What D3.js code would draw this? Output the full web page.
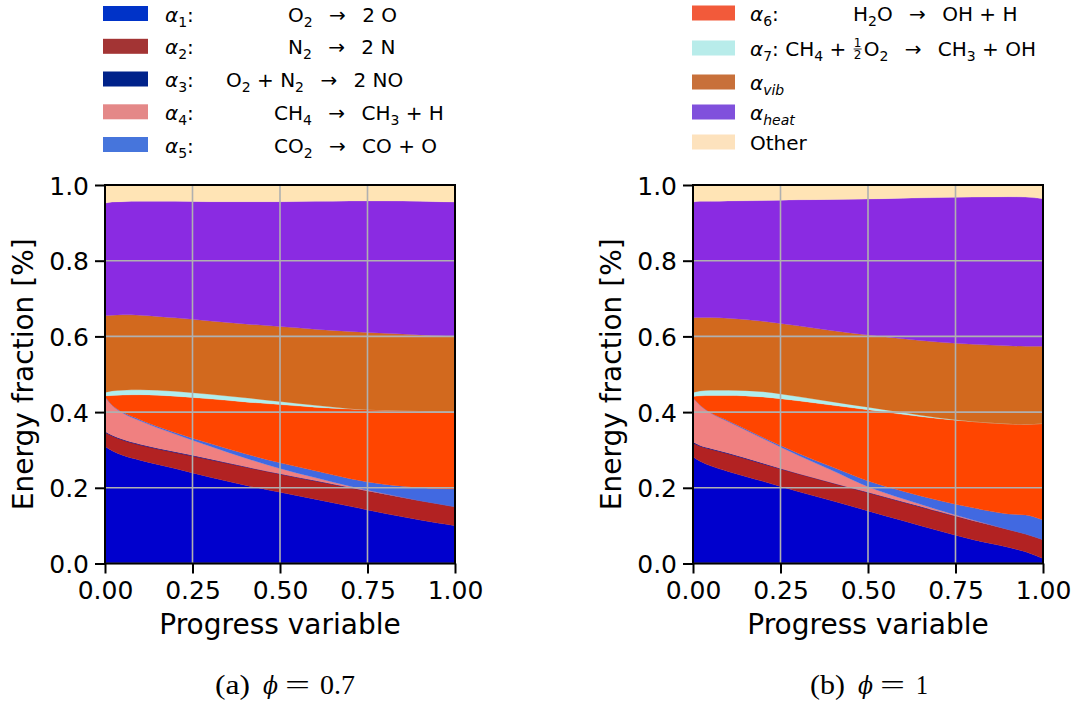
<!DOCTYPE html>
<html><head><meta charset="utf-8">
<script src="https://cdn.jsdelivr.net/npm/d3@7"></script>
<style>body{margin:0;background:#fff} svg{display:block} text{font-family:"DejaVu Sans",sans-serif}</style>
</head><body><svg id="c" width="1076" height="709"></svg>
<script>
// ---------------- DATA ----------------
const progress = [0, 0.02, 0.05, 0.1, 0.2, 0.3, 0.4, 0.5, 0.6, 0.7, 0.8, 0.9, 0.95, 1.0];
const seriesKeys = ["a1","a2","a3","a4","a5","a6","a7","vib","heat","other"];

// (a) phi = 0.7  -- layer thicknesses (energy fraction)
const a1_p07   = [0.310,0.298,0.286,0.273,0.251,0.228,0.207,0.188,0.170,0.151,0.132,0.115,0.107,0.100];
const a2_p07   = [0.036,0.039,0.040,0.040,0.042,0.046,0.048,0.048,0.048,0.049,0.051,0.051,0.051,0.050];
const a3_p07   = [0.003,0.002,0.002,0.002,0.002,0.002,0.001,0.001,0.001,0.001,0,0,0,0];
const a4_p07   = [0.091,0.079,0.070,0.062,0.047,0.034,0.023,0.014,0.008,0.003,0.001,0,0,0];
const a5_p07   = [0.001,0.001,0.002,0.003,0.004,0.007,0.011,0.015,0.018,0.020,0.025,0.035,0.040,0.047];
const a6_p07   = [0.002,0.025,0.045,0.066,0.096,0.118,0.137,0.154,0.168,0.184,0.196,0.202,0.204,0.205];
const a7_p07   = [0.009,0.012,0.013,0.013,0.013,0.012,0.011,0.008,0.005,0.001,0,0,0,0];
const vib_p07  = [0.203,0.200,0.199,0.197,0.194,0.194,0.195,0.198,0.201,0.204,0.203,0.201,0.200,0.199];
const heat_p07 = [0.297,0.299,0.299,0.301,0.308,0.315,0.323,0.330,0.338,0.345,0.350,0.353,0.354,0.354];
const other_p07= [0.048,0.045,0.044,0.043,0.043,0.044,0.044,0.044,0.043,0.042,0.042,0.043,0.044,0.045];

// (b) phi = 1
const a1_p1    = [0.282,0.270,0.258,0.243,0.217,0.190,0.165,0.139,0.113,0.087,0.063,0.043,0.031,0.013];
const a2_p1    = [0.036,0.040,0.044,0.047,0.046,0.047,0.047,0.048,0.049,0.050,0.050,0.047,0.047,0.050];
const a3_p1    = [0.003,0.002,0.002,0.002,0.002,0.001,0.001,0.001,0.001,0.001,0,0,0,0];
const a4_p1    = [0.116,0.106,0.094,0.083,0.065,0.048,0.032,0.015,0.008,0.004,0.002,0,0,0];
const a5_p1    = [0.001,0.001,0.001,0.002,0.003,0.005,0.009,0.015,0.020,0.025,0.032,0.041,0.050,0.052];
const a6_p1    = [0.003,0.024,0.045,0.067,0.107,0.139,0.164,0.188,0.203,0.216,0.228,0.238,0.240,0.255];
const a7_p1    = [0.011,0.013,0.014,0.014,0.014,0.011,0.009,0.007,0.005,0.002,0,0,0,0];
const vib_p1   = [0.197,0.194,0.192,0.190,0.186,0.187,0.188,0.191,0.195,0.200,0.204,0.206,0.206,0.204];
const heat_p1  = [0.306,0.307,0.307,0.310,0.319,0.333,0.347,0.359,0.371,0.382,0.389,0.394,0.394,0.390];
const other_p1 = [0.045,0.043,0.043,0.042,0.041,0.039,0.038,0.037,0.035,0.033,0.032,0.031,0.032,0.036];

const xTicks = [0, 0.25, 0.5, 0.75, 1.0];
const yTicks = [0, 0.2, 0.4, 0.6, 0.8, 1.0];

const legendNames = ["α_1:", "α_2:", "α_3:", "α_4:", "α_5:", "α_6:", "α_7:", "α_{vib}", "α_{heat}", "Other"];
const legendEquations = ["O_2 → 2 O", "N_2 → 2 N", "O_2 + N_2 → 2 NO", "CH_4 → CH_3 + H", "CO_2 → CO + O", "H_2O → OH + H", "CH_4 + ½O_2 → CH_3 + OH", "", "", ""];
const captions = [["(a)", "0.7"], ["(b)", "1"]];

// ---------------- STYLE ----------------
const areaColors = {a1:"#0000cd", a2:"#b22222", a3:"#000080", a4:"#f08080", a5:"#4169e1",
  a6:"#ff4500", a7:"#afeeee", vib:"#d2691e", heat:"#8a2be2", other:"#ffe4b5"};
const legendColors = {a1:"#0033c8", a2:"#a33434", a3:"#00228a", a4:"#e48888", a5:"#4675dc",
  a6:"#f25a3a", a7:"#b8ecea", vib:"#c8703a", heat:"#8050dc", other:"#fde2bd"};

const svg = d3.select("#c");
svg.append("rect").attr("width",1076).attr("height",709).attr("fill","#fff");

function makeRows(arrs){
  return progress.map((p,i)=>{ const r={p}; seriesKeys.forEach((k,j)=>r[k]=arrs[j][i]); return r; });
}
const panels = [
  {left:105, rows: makeRows([a1_p07,a2_p07,a3_p07,a4_p07,a5_p07,a6_p07,a7_p07,vib_p07,heat_p07,other_p07]), cap:captions[0],
   capPos:[[215,35],[263,15],[285,25],[320,35]], ylabX:33},
  {left:693, rows: makeRows([a1_p1,a2_p1,a3_p1,a4_p1,a5_p1,a6_p1,a7_p1,vib_p1,heat_p1,other_p1]), cap:captions[1],
   capPos:[[810,35],[858,15],[880,25],[916,12]], ylabX:621}
];
const plotTop = 185, plotBottom = 563.5, W = 350;

panels.forEach(P=>{
  const x = d3.scaleLinear().domain([0,1]).range([P.left, P.left+W]);
  const y = d3.scaleLinear().domain([0,1]).range([plotBottom, plotTop]);
  const g = svg.append("g");
  const stack = d3.stack().keys(seriesKeys)(P.rows);
  const area = d3.area().x(d=>x(d.data.p)).y0(d=>y(d[0])).y1(d=>y(Math.min(1,d[1]))).curve(d3.curveMonotoneX);
  const areaTop = d3.area().x(e=>x(e.data.p)).y0(e=>y(e[0])).y1(()=>y(1)).curve(d3.curveMonotoneX);
  g.selectAll("path.layer").data(stack).join("path")
    .attr("class","layer")
    .attr("fill", d=>areaColors[d.key])
    .attr("stroke", d=>areaColors[d.key]).attr("stroke-width", 0.3)
    .attr("d", d=> d.key==="other" ? areaTop(d) : area(d));
  // grid
  g.selectAll("line.gx").data(xTicks).join("line").attr("class","gx").attr("x1",d=>x(d)).attr("x2",d=>x(d))
    .attr("y1",plotTop).attr("y2",plotBottom).attr("stroke","#b0b0b0").attr("stroke-width",1.6);
  g.selectAll("line.gy").data(yTicks).join("line").attr("class","gy").attr("y1",d=>y(d)).attr("y2",d=>y(d))
    .attr("x1",P.left).attr("x2",P.left+W).attr("stroke","#b0b0b0").attr("stroke-width",1.6);
  // axes
  const xa = g.append("g").attr("transform",`translate(0,${plotBottom})`)
    .call(d3.axisBottom(x).tickValues(xTicks).tickFormat(d3.format(".2f")).tickSize(10).tickPadding(6));
  const ya = g.append("g").attr("transform",`translate(${P.left},0)`)
    .call(d3.axisLeft(y).tickValues(yTicks).tickFormat(d3.format(".1f")).tickSize(10).tickPadding(6));
  [xa,ya].forEach(a=>{
    a.select(".domain").remove();
    a.selectAll(".tick line").attr("stroke","#000").attr("stroke-width",2);
    a.selectAll(".tick text").attr("fill","#000").style("font-size","25px").style("font-family","DejaVu Sans");
  });
  xa.selectAll(".tick text").attr("dy","0.78em");
  ya.selectAll(".tick text").attr("dy","0.36em");
  // spines
  g.append("rect").attr("x",P.left).attr("y",plotTop).attr("width",W).attr("height",plotBottom-plotTop)
    .attr("fill","none").attr("stroke","#000").attr("stroke-width",2);
  // labels
  g.append("text").attr("x",P.left+W/2).attr("y",634).attr("text-anchor","middle")
    .style("font-size","28px").text("Progress variable");
  g.append("text").attr("transform",`translate(${P.ylabX},${(plotTop+plotBottom)/2}) rotate(-90)`)
    .attr("text-anchor","middle").style("font-size","28px").text("Energy fraction [%]");
  // caption (serif, LaTeX-like)
  const pieces = [P.cap[0], "ϕ", "=", P.cap[1]];
  const cy = 694;
  pieces.forEach((s,k)=>{
    const t = g.append("text").attr("x",P.capPos[k][0]).attr("y",cy)
      .style("font-family", k===1 ? "DejaVu Serif" : "Liberation Serif")
      .style("font-size", k===1 ? "24px" : "28px")
      .style("font-style", k===1 ? "italic" : "normal")
      .attr("textLength", P.capPos[k][1]).attr("lengthAdjust","spacingAndGlyphs")
      .text(s);
  });
});

// ---------------- LEGEND ----------------
function rich(textSel, str){
  let i=0; const fs=20; let pending=0;
  const add = (s, opts)=>{
    const ts = textSel.append("tspan").text(s);
    let dy = pending + (opts.sub?5:0);
    if(dy) ts.attr("dy", dy);
    pending = opts.sub ? -5 : 0;
    if(opts.sub) ts.style("font-size",(fs*0.7)+"px");
    if(opts.italic) ts.style("font-style","italic");
  };
  while(i<str.length){
    if(str[i]==="_"){
      let s;
      if(str[i+1]==="{"){ const j=str.indexOf("}",i); s=str.slice(i+2,j); i=j+1; }
      else { s=str[i+1]; i+=2; }
      add(s, {sub:true, italic:/[a-z]/.test(s)});
    } else {
      let j=i; while(j<str.length && str[j]!=="_") j++;
      str.slice(i,j).split(/(α)/).forEach(part=>{ if(part) add(part, {italic: part==="α"}); });
      i=j;
    }
  }
}
const ARROW = "\u00a0\u2002→\u2002\u00a0".replace(/\u00a0/g," ");
const legLayout = [
  {px:103, pw:45, base:21.5, nx:165, ex:288},
  {px:103, pw:45, base:54.3, nx:165, ex:288},
  {px:103, pw:45, base:87.0, nx:165, ex:226},
  {px:103, pw:45, base:119.8, nx:165, ex:274},
  {px:103, pw:45, base:152.5, nx:165, ex:274},
  {px:692, pw:43, base:21.0, nx:750, ex:853},
  {px:692, pw:43, base:56.0, nx:750, ex:null},
  {px:692, pw:43, base:90.0, nx:750, ex:null},
  {px:692, pw:43, base:120.0, nx:750, ex:null},
  {px:692, pw:43, base:150.0, nx:750, ex:null}
];
seriesKeys.forEach((k,i)=>{
  const L = legLayout[i];
  svg.append("rect").attr("x",L.px).attr("y",L.base-15.5).attr("width",L.pw).attr("height",15)
    .attr("fill",legendColors[k]);
  if(i===6){
    const parts = legendEquations[6].split("½");
    const t1 = svg.append("text").attr("x",L.nx).attr("y",L.base).style("font-size","20px").attr("xml:space","preserve");
    rich(t1, legendNames[6] + " " + parts[0]);
    const w1 = t1.node().getComputedTextLength();
    const fx = L.nx + w1 + 1;
    svg.append("text").attr("x",fx+4).attr("y",L.base-9).attr("text-anchor","middle").style("font-size","12px").text("1");
    svg.append("line").attr("x1",fx).attr("x2",fx+8).attr("y1",L.base-7).attr("y2",L.base-7).attr("stroke","#000").attr("stroke-width",0.8);
    svg.append("text").attr("x",fx+4).attr("y",L.base+3).attr("text-anchor","middle").style("font-size","12px").text("2");
    const t2 = svg.append("text").attr("x",fx+10).attr("y",L.base).style("font-size","20px").attr("xml:space","preserve");
    rich(t2, parts[1].replace(" → ", " \u2002→\u2002 "));
  } else {
    const t1 = svg.append("text").attr("x",L.nx).attr("y",L.base).style("font-size","20px");
    rich(t1, legendNames[i]);
    if(L.ex!==null){
      const t2 = svg.append("text").attr("x",L.ex).attr("y",L.base).style("font-size","20px").attr("xml:space","preserve");
      rich(t2, legendEquations[i].replace(" → ", " \u2002→\u2002 "));
    }
  }
});
</script></body></html>
